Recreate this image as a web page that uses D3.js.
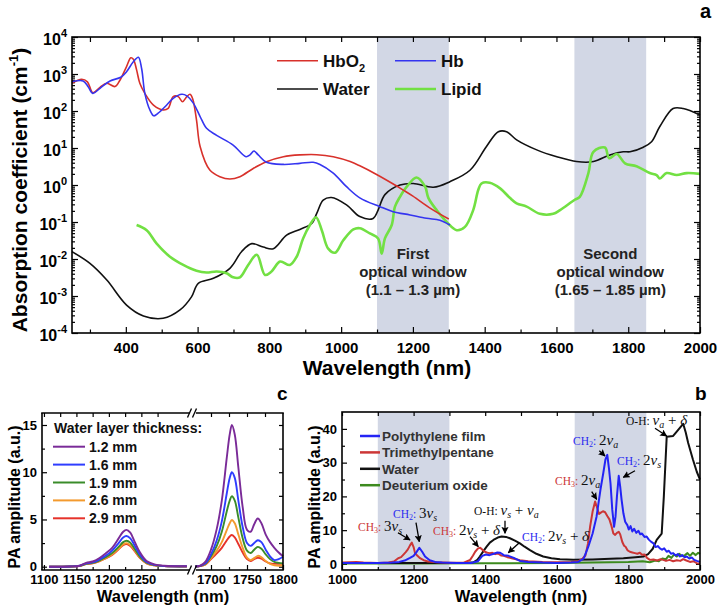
<!DOCTYPE html>
<html><head><meta charset="utf-8">
<script src="https://cdn.jsdelivr.net/npm/d3@7"></script>
<style>
body{margin:0;background:#fff}
svg{display:block}
</style>
</head><body><svg id="chart" width="721" height="607" font-family="Liberation Sans, Arial, Helvetica, sans-serif" font-weight="bold"></svg>
<script>
// ================= DATA =================
// Panel a: absorption spectra [wavelength nm, coefficient cm^-1]
const hbo2 = [[250,560],[277,720],[293,615],[308,312],[328,437],[347,560],[370,457],[384,690],[402,1585],[414,2750],[421,2500],[430,1290],[439,560],[453,300],[477,145],[504,107],[518,118],[532,245],[546,245],[558,178],[570,245],[579,282],[586,218],[597,57],[607,11],[634,2.54],[662,1.68],[690,1.45],[718,1.68],[755,2.8],[792,4.25],[839,5.8],[885,6.5],[932,6.6],[978,5.8],[1025,4.3],[1052,3.3],[1100,1.9],[1150,1.0],[1173,0.73],[1200,0.5],[1250,0.23],[1300,0.12]];
const hb = [[250,615],[281,650],[295,455],[308,300],[328,410],[356,650],[386,815],[402,1150],[421,2150],[435,2830],[444,1410],[453,300],[467,107],[478,74],[490,87],[514,145],[532,220],[556,283],[570,257],[588,163],[607,71],[625,34],[653,22],[699,12],[735,5.8],[746,6.5],[757,8.3],[769,6.5],[792,4.1],[839,3.6],[885,3.85],[922,4.1],[941,3.6],[978,2.1],[1015,0.9],[1052,0.45],[1108,0.26],[1145,0.19],[1192,0.155],[1238,0.126],[1275,0.112],[1303,0.083]];
const water = [[250,0.0158],[300,0.0076],[347,0.0027],[402,0.00057],[449,0.00029],[504,0.00025],[551,0.00042],[583,0.00095],[602,0.0022],[644,0.003],[690,0.0056],[723,0.016],[751,0.026],[783,0.021],[811,0.019],[848,0.044],[885,0.063],[918,0.091],[932,0.17],[950,0.39],[973,0.46],[1015,0.29],[1052,0.14],[1089,0.125],[1103,0.21],[1122,0.55],[1164,1.0],[1201,1.1],[1257,0.87],[1303,1.23],[1359,2.5],[1405,11],[1438,27.5],[1461,27.5],[1489,16.6],[1545,8.9],[1601,5.8],[1656,4.3],[1703,4.3],[1749,6.5],[1786,7.9],[1805,7.9],[1842,10.5],[1865,14.8],[1888,38],[1925,117],[1953,117],[2000,78]];
const lipid = [[430,0.083],[458,0.06],[486,0.026],[523,0.0115],[560,0.0069],[597,0.0048],[625,0.0043],[653,0.0046],[681,0.0041],[699,0.0032],[718,0.0032],[741,0.0069],[765,0.013],[788,0.0037],[806,0.0046],[830,0.0085],[857,0.0069],[876,0.0115],[894,0.036],[913,0.083],[930,0.135],[946,0.06],[964,0.019],[983,0.0148],[1006,0.032],[1034,0.063],[1052,0.068],[1080,0.049],[1103,0.036],[1113,0.014],[1122,0.036],[1141,0.083],[1150,0.26],[1164,0.48],[1183,0.9],[1210,1.6],[1234,0.9],[1243,0.45],[1266,0.21],[1294,0.1],[1322,0.06],[1345,0.074],[1368,0.21],[1382,0.73],[1391,1.1],[1414,1.15],[1443,0.81],[1470,0.45],[1489,0.32],[1517,0.26],[1554,0.166],[1591,0.166],[1610,0.21],[1651,0.4],[1665,0.48],[1689,2.1],[1703,7.9],[1735,10.3],[1747,5.3],[1768,6.9],[1791,3.85],[1823,3.2],[1860,2.1],[1879,1.86],[1888,1.5],[1907,2.1],[1935,1.86],[1963,2.1],[2000,2.0]];
const opticalWindows = [[1100,1300],[1650,1850]];
const aXTicks = [400,600,800,1000,1200,1400,1600,1800,2000];
const aYExp = [-4,-3,-2,-1,0,1,2,3,4];

// Panel b: PA spectra [wavelength nm, amplitude a.u.]
const polyethylene = [[1000,0.3],[1100,0.3],[1140,0.4],[1160,0.6],[1175,1.0],[1190,1.8],[1200,2.4],[1208,3.5],[1216,4.8],[1224,3.6],[1232,2.2],[1245,1.1],[1260,0.6],[1280,0.4],[1320,0.3],[1360,0.3],[1380,0.8],[1392,2.4],[1402,2.8],[1412,2.6],[1424,3.0],[1434,3.4],[1442,3.3],[1452,2.6],[1465,2.4],[1480,1.8],[1497,0.9],[1520,0.6],[1560,0.4],[1600,0.3],[1640,0.4],[1660,0.6],[1675,1.6],[1688,5.1],[1700,9],[1711,14],[1722,22],[1730,27],[1736,31],[1741,32.3],[1746,28],[1750,23.9],[1755,16],[1760,11],[1764,14],[1768,20],[1773,26.1],[1777,23],[1781,19],[1786,15],[1791,12.5],[1797,11.5],[1801,10.2],[1806,11.2],[1811,9.6],[1816,10.4],[1822,9.2],[1828,9.8],[1833,8.8],[1838,9.0],[1845,8.0],[1851,8.1],[1857,7.2],[1863,6.6],[1870,6.1],[1876,5.0],[1882,5.3],[1888,4.6],[1894,4.2],[1900,4.6],[1907,3.6],[1913,3.9],[1919,3.0],[1925,3.2],[1932,2.5],[1938,2.9],[1944,2.2],[1950,2.6],[1957,2.0],[1963,2.2],[1970,1.6],[1977,1.9],[1984,1.2],[1991,0.9],[2000,0.6]];
const trimethylpentane = [[1000,0.4],[1040,0.6],[1060,0.4],[1100,0.3],[1130,0.4],[1145,0.7],[1157,1.7],[1165,2.0],[1171,2.7],[1178,3.5],[1184,4.3],[1190,5.5],[1195,6.3],[1200,5.0],[1204,3.2],[1210,2.5],[1218,1.7],[1228,1.1],[1240,0.7],[1265,0.5],[1300,0.35],[1340,0.35],[1358,1.2],[1366,2.5],[1372,3.6],[1380,4.6],[1386,4.8],[1393,4.1],[1399,3.6],[1406,3.3],[1413,3.2],[1420,3.3],[1428,2.9],[1436,3.1],[1444,2.5],[1452,2.4],[1462,2.0],[1474,1.7],[1486,1.4],[1497,1.1],[1520,0.8],[1560,0.6],[1600,0.5],[1640,0.55],[1660,0.8],[1672,1.6],[1680,2.5],[1687,6],[1693,11],[1700,15.5],[1707,18.5],[1713,16.5],[1718,14.8],[1723,15.2],[1729,15.6],[1735,15.3],[1741,14.2],[1747,13.2],[1752,11.5],[1758,9.0],[1763,8.6],[1768,9.2],[1773,9.5],[1777,8.8],[1783,6.5],[1788,5.4],[1792,5.1],[1798,4.0],[1804,3.6],[1811,3.4],[1818,3.2],[1825,3.0],[1832,3.3],[1838,2.7],[1845,2.8],[1852,1.8],[1860,1.2],[1870,1.3],[1880,1.0],[1890,1.4],[1897,1.2],[1905,0.9],[1915,1.2],[1925,0.8],[1935,1.1],[1945,0.9],[1953,1.4],[1962,1.0],[1972,0.6],[1982,0.8],[1991,0.2],[2000,0.1]];
const waterPA = [[1000,0.3],[1300,0.3],[1350,0.35],[1367,0.5],[1378,1.2],[1385,2.2],[1395,3.8],[1404,5.1],[1413,6.3],[1423,7.1],[1435,7.8],[1446,8.1],[1458,8.0],[1469,7.6],[1483,6.9],[1497,6.1],[1510,5.1],[1525,4.1],[1543,3.0],[1562,2.2],[1585,1.7],[1609,1.4],[1646,1.2],[1700,1.3],[1750,1.5],[1786,1.7],[1820,2.0],[1842,2.2],[1855,2.9],[1868,4.5],[1879,7.1],[1893,9.0],[1899,20],[1907,37.7],[1925,37.9],[1935,39.2],[1953,41.5],[1960,39],[1967,35.8],[1980,31],[1991,27.3],[2000,25]];
const deuteriumOxide = [[1000,0.1],[1200,0.1],[1400,0.2],[1600,0.3],[1700,0.4],[1800,0.6],[1840,0.8],[1860,0.5],[1875,1.0],[1885,0.8],[1895,1.6],[1905,1.4],[1912,2.4],[1920,1.8],[1928,2.8],[1935,2.2],[1942,3.0],[1950,2.3],[1958,2.6],[1965,3.2],[1972,2.4],[1980,3.3],[1988,2.6],[1995,3.3],[2000,3.0]];
const bXTicks = [1000,1200,1400,1600,1800,2000];
const bYTicks = [0,10,20,30,40];

// Panel c: PA vs water layer thickness (broken x axis)
const cThickness = ["1.2 mm","1.6 mm","1.9 mm","2.6 mm","2.9 mm"];
const cLeftWl  = [1108,1140,1155,1165,1175,1185,1195,1205,1215,1222,1227,1233,1240,1248,1258,1270,1285,1300,1320];
const cLeftVals = [
  [0,0.02,0.1,0.4,0.55,0.9,1.4,2.0,3.0,3.7,3.9,3.6,2.6,1.5,0.6,0.25,0.1,0.05,0.05],
  [0,0.02,0.1,0.35,0.45,0.75,1.15,1.7,2.5,3.1,3.25,3.0,2.2,1.25,0.5,0.2,0.08,0.04,0.04],
  [0,0.02,0.08,0.3,0.4,0.65,1.0,1.45,2.1,2.6,2.75,2.55,1.85,1.05,0.42,0.17,0.07,0.03,0.03],
  [0,0.02,0.08,0.28,0.38,0.6,0.9,1.3,1.9,2.35,2.5,2.3,1.7,0.95,0.38,0.15,0.06,0.03,0.02],
  [0,0.02,0.08,0.27,0.36,0.57,0.87,1.25,1.85,2.28,2.4,2.2,1.62,0.9,0.36,0.14,0.06,0.03,0.02]
];
const cRightWl = [1678,1685,1692,1700,1708,1715,1722,1726,1729,1733,1738,1744,1750,1755,1760,1765,1770,1776,1782,1788,1794,1800];
const cRightVals = [
  [0.02,0.1,0.5,1.8,4.0,7.0,11.6,14.0,15.0,14.0,10.5,6.3,3.9,3.7,4.5,5.1,4.6,3.4,2.6,2.0,1.5,1.1],
  [0.02,0.08,0.35,1.3,2.8,4.8,7.8,9.4,10.0,9.4,7.0,4.2,2.5,2.2,2.5,2.8,2.6,1.8,1.1,0.7,0.8,1.05],
  [0.02,0.07,0.3,1.1,2.2,3.7,5.9,7.0,7.45,7.0,5.2,3.0,1.7,1.45,1.8,2.1,1.9,1.3,0.8,0.5,0.4,0.35],
  [0.02,0.06,0.25,0.9,1.7,2.6,3.9,4.6,4.95,4.6,3.4,2.0,0.95,0.7,0.9,1.15,1.0,0.6,0.3,0.15,0.1,0.15],
  [0.02,0.06,0.22,0.8,1.4,2.0,2.8,3.2,3.35,3.1,2.4,1.5,0.8,0.6,0.8,0.95,0.85,0.55,0.35,0.3,0.3,0.3]
];
const cXTicksL = [1100,1150,1200,1250];
const cXTicksR = [1700,1750,1800];
const cYTicks = [0,5,10,15];

// ================= DRAWING =================
const svg = d3.select("#chart");
const SHADE = "#d2d7e5";
const SANS = "Liberation Sans, Arial, Helvetica, sans-serif";
const SERIF = "Liberation Serif, Times New Roman, serif";
const fmt = d3.format("d");

svg.append("defs").append("marker").attr("id","arr").attr("viewBox","0 0 10 10")
  .attr("refX",9).attr("refY",5).attr("markerWidth",5.5).attr("markerHeight",5.5)
  .attr("orient","auto").append("path").attr("d","M0,0L10,5L0,10L2,5z").attr("fill","#000");

function styleAxis(g, fs){
  g.attr("font-family",SANS).attr("font-weight","bold");
  g.select(".domain").remove();
  g.selectAll(".tick line").attr("stroke","#000").attr("stroke-width",1.2);
  g.selectAll("text").attr("font-size",fs).attr("fill","#000");
}
function minorRange(a,b,step){ return d3.range(a,b+step/2,step); }

// ---------- Panel a ----------
const ax = d3.scaleLinear().domain([250,2000]).range([72,700]);
const ay = d3.scaleLog().domain([1e-4,1e4]).range([333,37]);
const A = svg.append("g");
opticalWindows.forEach(w=>{
  A.append("rect").attr("x",ax(w[0])).attr("y",37).attr("width",ax(w[1])-ax(w[0])).attr("height",333-37).attr("fill",SHADE);
});
const aMinorX = minorRange(300,1900,100).filter(v=>!aXTicks.includes(v));
const aMinorY = [];
for(let e=-4;e<4;e++) for(let m=2;m<=9;m++) aMinorY.push(m*Math.pow(10,e));
A.append("g").attr("transform","translate(0,333)").call(d3.axisBottom(ax).tickValues(aXTicks).tickSize(-6).tickPadding(9).tickFormat(fmt)).call(g=>styleAxis(g,15));
A.append("g").attr("transform","translate(0,333)").call(d3.axisBottom(ax).tickValues(aMinorX).tickSize(-3.5).tickFormat("")).call(g=>styleAxis(g,15));
A.append("g").attr("transform","translate(0,37)").call(d3.axisTop(ax).tickValues(aXTicks.concat(aMinorX)).tickSize(-5).tickFormat("")).call(g=>styleAxis(g,15));
A.append("g").attr("transform","translate(72,0)").call(d3.axisLeft(ay).tickValues(aYExp.map(e=>Math.pow(10,e))).tickSize(-6).tickFormat("")).call(g=>styleAxis(g,15));
A.append("g").attr("transform","translate(72,0)").call(d3.axisLeft(ay).tickValues(aMinorY).tickSize(-3).tickFormat("")).call(g=>styleAxis(g,15));
A.append("g").attr("transform","translate(700,0)").call(d3.axisRight(ay).tickValues(aYExp.map(e=>Math.pow(10,e))).tickSize(-6).tickFormat("")).call(g=>styleAxis(g,15));
A.append("g").attr("transform","translate(700,0)").call(d3.axisRight(ay).tickValues(aMinorY).tickSize(-3).tickFormat("")).call(g=>styleAxis(g,15));
aYExp.forEach(e=>{
  const t = A.append("text").attr("x",67).attr("y",ay(Math.pow(10,e))+7.5).attr("text-anchor","end").attr("font-size",16);
  t.append("tspan").text("10");
  t.append("tspan").attr("dy",-8).attr("font-size",11).text(e<0?"-"+(-e):String(e));
});
const aLine = d3.line().x(d=>ax(d[0])).y(d=>ay(d[1])).curve(d3.curveCatmullRom.alpha(0.5));
A.append("path").datum(water).attr("d",aLine).attr("fill","none").attr("stroke","#111").attr("stroke-width",1.6);
A.append("path").datum(lipid).attr("d",aLine).attr("fill","none").attr("stroke","#72e043").attr("stroke-width",2.6);
A.append("path").datum(hbo2).attr("d",aLine).attr("fill","none").attr("stroke","#d8312b").attr("stroke-width",1.6);
A.append("path").datum(hb).attr("d",aLine).attr("fill","none").attr("stroke","#3535f0").attr("stroke-width",1.6);
A.append("rect").attr("x",72).attr("y",37).attr("width",628).attr("height",296).attr("fill","none").attr("stroke","#000").attr("stroke-width",1.6);
// legend a
const aLeg = [
  {x:277,y:60.7,c:"#d8312b",w:1.6,t:"HbO",sub:"2"},
  {x:277,y:89,c:"#111",w:1.6,t:"Water"},
  {x:395,y:60.7,c:"#3535f0",w:1.6,t:"Hb"},
  {x:395,y:89,c:"#72e043",w:2.6,t:"Lipid"}];
aLeg.forEach(l=>{
  A.append("line").attr("x1",l.x).attr("x2",l.x+41).attr("y1",l.y).attr("y2",l.y).attr("stroke",l.c).attr("stroke-width",l.w);
  const t=A.append("text").attr("x",l.x+46).attr("y",l.y+6.3).attr("font-size",17).attr("fill","#111");
  t.append("tspan").text(l.t);
  if(l.sub) t.append("tspan").attr("dy",5).attr("font-size",11).text(l.sub);
});
// window annotations
[[ax(1200),["First","optical window","(1.1 – 1.3 µm)"]],[ax(1750),["Second","optical window","(1.65 – 1.85 µm)"]]].forEach(([x,lines])=>{
  lines.forEach((s,i)=>A.append("text").attr("x",x).attr("y",259+18*i).attr("text-anchor","middle").attr("font-size",15).attr("fill","#222").text(s));
});
// axis titles a
A.append("text").attr("x",387).attr("y",375).attr("text-anchor","middle").attr("font-size",21).text("Wavelength (nm)");
{
  const t=A.append("text").attr("transform","translate(27,190) rotate(-90)").attr("text-anchor","middle").attr("font-size",21);
  t.append("tspan").text("Absorption coefficient (cm");
  t.append("tspan").attr("dy",-9).attr("font-size",13).text("-1");
  t.append("tspan").attr("dy",9).text(")");
}
svg.append("text").attr("x",700).attr("y",18).attr("font-size",20).text("a");

// ---------- Panel b ----------
const bx = d3.scaleLinear().domain([1000,2000]).range([342,700]);
const by = d3.scaleLinear().domain([-1.8,45]).range([570,412]);
const B = svg.append("g");
opticalWindows.forEach(w=>{
  B.append("rect").attr("x",bx(w[0])).attr("y",412).attr("width",bx(w[1])-bx(w[0])).attr("height",158).attr("fill",SHADE);
});
const bMinorX = minorRange(1100,1900,200);
const bMinorY = [5,15,25,35];
B.append("g").attr("transform","translate(0,570)").call(d3.axisBottom(bx).tickValues(bXTicks).tickSize(-5).tickPadding(5).tickFormat(fmt)).call(g=>styleAxis(g,13));
B.append("g").attr("transform","translate(0,570)").call(d3.axisBottom(bx).tickValues(bMinorX).tickSize(-3).tickFormat("")).call(g=>styleAxis(g,13));
B.append("g").attr("transform","translate(0,412)").call(d3.axisTop(bx).tickValues(bXTicks.concat(bMinorX)).tickSize(-4).tickFormat("")).call(g=>styleAxis(g,13));
B.append("g").attr("transform","translate(342,0)").call(d3.axisLeft(by).tickValues(bYTicks).tickSize(-5).tickPadding(5).tickFormat(fmt)).call(g=>styleAxis(g,13));
B.append("g").attr("transform","translate(342,0)").call(d3.axisLeft(by).tickValues(bMinorY).tickSize(-3).tickFormat("")).call(g=>styleAxis(g,13));
B.append("g").attr("transform","translate(700,0)").call(d3.axisRight(by).tickValues(bYTicks.concat(bMinorY)).tickSize(-4).tickFormat("")).call(g=>styleAxis(g,13));
const bLine = d3.line().x(d=>bx(d[0])).y(d=>by(d[1]));
const bSeries = [
  {d:deuteriumOxide,c:"#3c8a1e",n:"Deuterium oxide"},
  {d:waterPA,c:"#111",n:"Water"},
  {d:trimethylpentane,c:"#cc3636",n:"Trimethylpentane"},
  {d:polyethylene,c:"#2424f5",n:"Polythylene film"}];
bSeries.forEach(s=>B.append("path").datum(s.d).attr("d",bLine).attr("fill","none").attr("stroke",s.c).attr("stroke-width",2).attr("stroke-linejoin","round"));
B.append("rect").attr("x",342).attr("y",412).attr("width",358).attr("height",158).attr("fill","none").attr("stroke","#000").attr("stroke-width",1.6);
// legend b
bSeries.slice().reverse().forEach((s,i)=>{
  const y=436+16.4*i;
  B.append("line").attr("x1",360).attr("x2",380).attr("y1",y).attr("y2",y).attr("stroke",s.c).attr("stroke-width",2.5);
  B.append("text").attr("x",382).attr("y",y+5).attr("font-size",13.5).attr("fill","#333").text(s.n);
});
// annotations b
const RED="#cc3636", BLU="#2a2af0";
function ann(x,y,segs){
  const t=B.append("text").attr("x",x).attr("y",y).attr("font-family",SERIF).attr("font-weight","normal");
  let off=0;
  segs.forEach(s=>{
    const o=s.o||0;
    t.append("tspan").attr("dy",o-off).attr("font-size",s.z).attr("fill",s.c||"#111")
      .attr("font-style",s.i?"italic":"normal").text(s.t);
    off=o;
  });
}
function lbl(name,sub,col){ return [{t:name,z:11.5,c:col},{t:sub,z:8,c:col,o:2},{t:": ",z:11.5,c:col}]; }
const vs=[{t:"v",z:15,i:1},{t:"s",z:10,i:1,o:3}];
const va=[{t:"v",z:15,i:1},{t:"a",z:10,i:1,o:3}];
ann(358,531,lbl("CH","3",RED).concat([{t:"3",z:15}],vs));
ann(393,518,lbl("CH","2",BLU).concat([{t:"3",z:15}],vs));
ann(433,535,lbl("CH","3",RED).concat([{t:"2",z:15}],vs,[{t:" + ",z:15},{t:"δ",z:15,i:1}]));
ann(474,515,[{t:"O-H: ",z:11.5}].concat(vs,[{t:" + ",z:15}],va));
ann(522,541,lbl("CH","2",BLU).concat([{t:"2",z:15}],vs,[{t:" + ",z:15},{t:"δ",z:15,i:1}]));
ann(555,485,lbl("CH","3",RED).concat([{t:"2",z:15}],va));
ann(573,445,lbl("CH","2",BLU).concat([{t:"2",z:15}],va));
ann(617,465,lbl("CH","2",BLU).concat([{t:"2",z:15}],vs));
ann(626,425,[{t:"O-H: ",z:11.5}].concat(va,[{t:" + ",z:15},{t:"δ",z:15,i:1}]));
const arrows=[[[398,532.7],[410,540]],[[416,522.7],[419.3,541.7]],[[470,536.7],[478.3,546.7]],[[505,520.7],[505,533.3]],[[519.3,542.7],[508.3,552.7]],[[591.7,491.7],[596.7,499.3]],[[599.3,450.7],[605,456]],[[635,470.7],[623.3,477.3]],[[655,428.3],[666.7,436]]];
arrows.forEach(a=>B.append("line").attr("x1",a[0][0]).attr("y1",a[0][1]).attr("x2",a[1][0]).attr("y2",a[1][1]).attr("stroke","#000").attr("stroke-width",1.3).attr("marker-end","url(#arr)"));
B.append("text").attr("x",521).attr("y",602).attr("text-anchor","middle").attr("font-size",16.5).text("Wavelength (nm)");
B.append("text").attr("transform","translate(320,497) rotate(-90)").attr("text-anchor","middle").attr("font-size",16).text("PA amplitude (a.u.)");
svg.append("text").attr("x",695).attr("y",400).attr("font-size",19).text("b");

// ---------- Panel c ----------
const cxL = d3.scaleLinear().domain([1097,1328]).range([42,192]);
const cxR = d3.scaleLinear().domain([1675,1800]).range([193,283]);
const cy = d3.scaleLinear().domain([-0.35,16.27]).range([570,413]);
const C = svg.append("g");
const cColors = ["#7a2b98","#2f3dff","#3a8c2a","#f39a2e","#e6322a"];
const cMinorY = [2.5,7.5,12.5];
C.append("g").attr("transform","translate(0,570)").call(d3.axisBottom(cxL).tickValues(cXTicksL).tickSize(-5).tickPadding(5).tickFormat(fmt)).call(g=>styleAxis(g,13));
C.append("g").attr("transform","translate(0,570)").call(d3.axisBottom(cxL).tickValues([1125,1175,1225,1275]).tickSize(-3).tickFormat("")).call(g=>styleAxis(g,13));
C.append("g").attr("transform","translate(0,570)").call(d3.axisBottom(cxR).tickValues(cXTicksR).tickSize(-5).tickPadding(5).tickFormat(fmt)).call(g=>styleAxis(g,13));
C.append("g").attr("transform","translate(0,570)").call(d3.axisBottom(cxR).tickValues([1725,1775]).tickSize(-3).tickFormat("")).call(g=>styleAxis(g,13));
C.append("g").attr("transform","translate(0,413)").call(d3.axisTop(cxL).tickValues(cXTicksL.concat([1125,1175,1225,1275])).tickSize(-4).tickFormat("")).call(g=>styleAxis(g,13));
C.append("g").attr("transform","translate(0,413)").call(d3.axisTop(cxR).tickValues([1700,1725,1750,1775]).tickSize(-4).tickFormat("")).call(g=>styleAxis(g,13));
C.append("g").attr("transform","translate(42,0)").call(d3.axisLeft(cy).tickValues(cYTicks).tickSize(-5).tickPadding(5).tickFormat(fmt)).call(g=>styleAxis(g,13));
C.append("g").attr("transform","translate(42,0)").call(d3.axisLeft(cy).tickValues(cMinorY).tickSize(-3).tickFormat("")).call(g=>styleAxis(g,13));
C.append("g").attr("transform","translate(283,0)").call(d3.axisRight(cy).tickValues(cYTicks.concat(cMinorY)).tickSize(-4).tickFormat("")).call(g=>styleAxis(g,13));
const cLineL = d3.line().x((d,i)=>cxL(cLeftWl[i])).y(d=>cy(d)).curve(d3.curveCatmullRom.alpha(0.5));
const cLineR = d3.line().x((d,i)=>cxR(cRightWl[i])).y(d=>cy(d)).curve(d3.curveCatmullRom.alpha(0.5));
for(let k=4;k>=0;k--){
  C.append("path").datum(cLeftVals[k]).attr("d",cLineL).attr("fill","none").attr("stroke",cColors[k]).attr("stroke-width",1.9);
  C.append("path").datum(cRightVals[k]).attr("d",cLineR).attr("fill","none").attr("stroke",cColors[k]).attr("stroke-width",1.9);
}
// frame with break
const fr = C.append("g").attr("stroke","#000").attr("stroke-width",1.6).attr("fill","none");
fr.append("line").attr("x1",42).attr("x2",42).attr("y1",413).attr("y2",570);
fr.append("line").attr("x1",283).attr("x2",283).attr("y1",413).attr("y2",570);
[413,570].forEach(y=>{
  fr.append("line").attr("x1",41.2).attr("x2",cxL(1325)).attr("y1",y).attr("y2",y);
  fr.append("line").attr("x1",cxR(1679)).attr("x2",283.8).attr("y1",y).attr("y2",y);
  fr.append("line").attr("x1",187.5).attr("y1",y+4.5).attr("x2",191.5).attr("y2",y-4.5).attr("stroke-width",1.3);
  fr.append("line").attr("x1",192.5).attr("y1",y+4.5).attr("x2",196.5).attr("y2",y-4.5).attr("stroke-width",1.3);
});
// legend c
C.append("text").attr("x",54).attr("y",433).attr("font-size",14).attr("fill","#111").text("Water layer thickness:");
cThickness.forEach((s,i)=>{
  const y=446.7+17.9*i;
  C.append("line").attr("x1",53).attr("x2",85).attr("y1",y).attr("y2",y).attr("stroke",cColors[i]).attr("stroke-width",2);
  C.append("text").attr("x",89).attr("y",y+5).attr("font-size",14).attr("fill","#111").text(s);
});
C.append("text").attr("x",163).attr("y",602).attr("text-anchor","middle").attr("font-size",16.5).text("Wavelength (nm)");
C.append("text").attr("transform","translate(20,497) rotate(-90)").attr("text-anchor","middle").attr("font-size",16).text("PA amplitude (a.u.)");
svg.append("text").attr("x",277).attr("y",400).attr("font-size",19).text("c");
</script></body></html>
